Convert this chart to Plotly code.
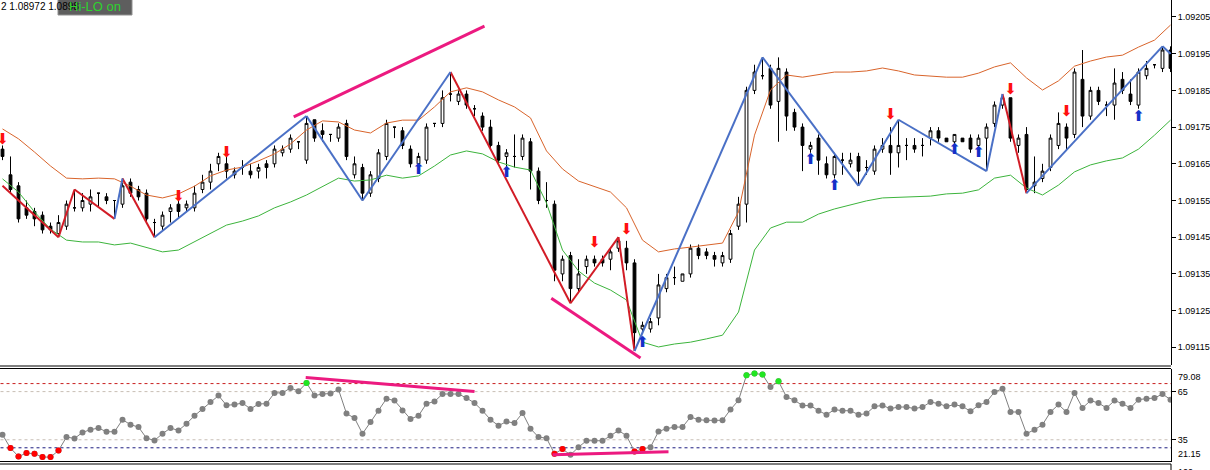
import plotly.graph_objects as go

# ---------------- data ----------------
bar_index = list(range(147))

open_px = [1.09169,1.09162,1.09159,1.09153,1.09152,1.09151,1.09148,1.09146,1.09148,1.09153,
1.09153,1.09154,1.09157,1.09156,1.09155,1.09154,1.09160,1.09158,1.09157,1.09149,
1.09148,1.09152,1.09154,1.09153,1.09153,1.09158,1.09160,1.09165,1.09165,1.09162,
1.09164,1.09163,1.09163,1.09165,1.09165,1.09168,1.09169,1.09171,1.09166,1.09177,
1.09174,1.09173,1.09172,1.09176,1.09162,1.09164,1.09157,1.09161,1.09167,1.09175,
1.09174,1.09169,1.09165,1.09166,1.09176,1.09176,1.09184,1.09182,1.09184,1.09180,
1.09178,1.09175,1.09170,1.09167,1.09167,1.09167,1.09171,1.09163,1.09155,1.09154,
1.09135,1.09140,1.09131,1.09137,1.09139,1.09139,1.09139,1.09142,1.09142,1.09138,
1.09120,1.09120,1.09123,1.09131,1.09134,1.09133,1.09135,1.09142,1.09141,1.09140,
1.09138,1.09139,1.09148,1.09154,1.09185,1.09189,1.09191,1.09182,1.09190,1.09179,
1.09175,1.09169,1.09172,1.09165,1.09162,1.09166,1.09165,1.09167,1.09164,1.09163,
1.09169,1.09170,1.09168,1.09170,1.09170,1.09170,1.09172,1.09174,1.09172,1.09171,
1.09172,1.09172,1.09170,1.09172,1.09176,1.09181,1.09183,1.09170,1.09173,1.09159,
1.09161,1.09164,1.09170,1.09175,1.09173,1.09188,1.09178,1.09185,1.09181,1.09181,
1.09188,1.09184,1.09181,1.09189,1.09192,1.09191,1.09196]

close_px = [1.09167,1.09158,1.09150,1.09151,1.09150,1.09147,1.09147,1.09149,1.09154,1.09153,
1.09155,1.09156,1.09157,1.09155,1.09155,1.09159,1.09157,1.09156,1.09150,1.09149,
1.09151,1.09153,1.09152,1.09154,1.09157,1.09160,1.09163,1.09167,1.09163,1.09163,
1.09164,1.09162,1.09164,1.09164,1.09169,1.09169,1.09172,1.09171,1.09176,1.09172,
1.09173,1.09173,1.09175,1.09167,1.09165,1.09157,1.09162,1.09168,1.09176,1.09175,
1.09170,1.09165,1.09167,1.09175,1.09176,1.09183,1.09184,1.09184,1.09181,1.09180,
1.09175,1.09170,1.09166,1.09168,1.09167,1.09172,1.09163,1.09155,1.09155,1.09136,
1.09139,1.09131,1.09135,1.09139,1.09138,1.09138,1.09141,1.09144,1.09138,1.09119,
1.09121,1.09122,1.09132,1.09134,1.09134,1.09135,1.09142,1.09140,1.09140,1.09139,
1.09140,1.09146,1.09154,1.09185,1.09190,1.09189,1.09181,1.09191,1.09178,1.09175,
1.09170,1.09170,1.09166,1.09162,1.09167,1.09166,1.09166,1.09163,1.09164,1.09169,
1.09170,1.09168,1.09170,1.09170,1.09169,1.09170,1.09174,1.09172,1.09171,1.09173,
1.09171,1.09169,1.09172,1.09175,1.09181,1.09183,1.09172,1.09172,1.09158,1.09160,
1.09163,1.09172,1.09176,1.09172,1.09190,1.09178,1.09185,1.09182,1.09181,1.09187,
1.09185,1.09182,1.09190,1.09191,1.09192,1.09196,1.09191]

high_px = [1.09170,1.09167,1.09160,1.09155,1.09153,1.09152,1.09149,1.09151,1.09155,1.09158,
1.09157,1.09158,1.09157,1.09157,1.09155,1.09161,1.09161,1.09159,1.09158,1.09150,
1.09152,1.09154,1.09155,1.09155,1.09159,1.09162,1.09165,1.09168,1.09167,1.09164,
1.09166,1.09165,1.09165,1.09166,1.09170,1.09170,1.09173,1.09171,1.09178,1.09177,
1.09176,1.09173,1.09176,1.09177,1.09167,1.09165,1.09163,1.09169,1.09177,1.09175,
1.09175,1.09170,1.09168,1.09176,1.09176,1.09185,1.09190,1.09185,1.09185,1.09181,
1.09179,1.09177,1.09171,1.09169,1.09173,1.09173,1.09172,1.09164,1.09160,1.09155,
1.09140,1.09141,1.09139,1.09140,1.09140,1.09140,1.09142,1.09145,1.09144,1.09139,
1.09122,1.09123,1.09135,1.09135,1.09137,1.09135,1.09143,1.09143,1.09142,1.09141,
1.09141,1.09147,1.09156,1.09186,1.09192,1.09194,1.09192,1.09194,1.09191,1.09180,
1.09176,1.09171,1.09173,1.09167,1.09168,1.09168,1.09168,1.09168,1.09166,1.09170,
1.09172,1.09175,1.09177,1.09172,1.09172,1.09172,1.09175,1.09175,1.09172,1.09173,
1.09172,1.09173,1.09173,1.09176,1.09182,1.09184,1.09183,1.09173,1.09175,1.09167,
1.09165,1.09173,1.09179,1.09176,1.09191,1.09196,1.09186,1.09186,1.09182,1.09191,
1.09190,1.09188,1.09191,1.09193,1.09192,1.09197,1.09197]

low_px = [1.09166,1.09157,1.09149,1.09150,1.09148,1.09146,1.09146,1.09145,1.09147,1.09152,
1.09152,1.09152,1.09153,1.09154,1.09150,1.09153,1.09156,1.09155,1.09149,1.09145,
1.09147,1.09149,1.09150,1.09152,1.09152,1.09157,1.09158,1.09163,1.09161,1.09161,
1.09162,1.09161,1.09161,1.09161,1.09164,1.09167,1.09168,1.09169,1.09165,1.09171,
1.09171,1.09171,1.09171,1.09166,1.09161,1.09155,1.09156,1.09160,1.09166,1.09172,
1.09169,1.09164,1.09164,1.09165,1.09175,1.09175,1.09182,1.09181,1.09180,1.09178,
1.09174,1.09169,1.09165,1.09164,1.09164,1.09166,1.09158,1.09154,1.09153,1.09133,
1.09133,1.09127,1.09130,1.09135,1.09137,1.09137,1.09136,1.09141,1.09136,1.09114,
1.09119,1.09119,1.09121,1.09130,1.09132,1.09133,1.09134,1.09139,1.09139,1.09137,
1.09137,1.09138,1.09147,1.09149,1.09184,1.09188,1.09180,1.09171,1.09174,1.09174,
1.09163,1.09168,1.09162,1.09161,1.09161,1.09162,1.09164,1.09159,1.09162,1.09162,
1.09168,1.09162,1.09164,1.09166,1.09168,1.09167,1.09170,1.09171,1.09171,1.09170,
1.09171,1.09168,1.09169,1.09163,1.09175,1.09180,1.09171,1.09168,1.09157,1.09157,
1.09160,1.09163,1.09169,1.09169,1.09172,1.09175,1.09177,1.09181,1.09178,1.09177,
1.09184,1.09181,1.09180,1.09188,1.09191,1.09190,1.09190]

# envelope bands, sampled every second bar
band_index = list(range(0, 147, 2))
band_upper = [1.091745,1.091718,1.091682,1.091644,1.091611,1.091609,1.091611,1.091609,1.091589,1.091565,
1.091557,1.091568,1.091589,1.091617,1.091633,1.091641,1.091658,1.091677,1.091704,1.091742,
1.091767,1.091764,1.091742,1.091734,1.091761,1.091769,1.091769,1.091805,1.091846,1.091857,
1.091846,1.091824,1.091805,1.091775,1.091685,1.091636,1.091603,1.091587,1.091573,1.091530,
1.091442,1.091410,1.091418,1.091423,1.091429,1.091434,1.091519,1.091728,1.091851,1.091892,
1.091886,1.091892,1.091900,1.091900,1.091903,1.091911,1.091903,1.091892,1.091889,1.091886,
1.091886,1.091897,1.091914,1.091925,1.091884,1.091851,1.091876,1.091916,1.091930,1.091941,
1.091946,1.091968,1.091987,1.092028]
band_lower = [1.091609,1.091573,1.091519,1.091472,1.091442,1.091437,1.091437,1.091429,1.091434,1.091423,
1.091410,1.091415,1.091437,1.091461,1.091483,1.091494,1.091508,1.091530,1.091546,1.091565,
1.091589,1.091611,1.091603,1.091606,1.091619,1.091611,1.091617,1.091644,1.091674,1.091685,
1.091677,1.091655,1.091641,1.091633,1.091543,1.091415,1.091358,1.091325,1.091306,1.091279,
1.091164,1.091151,1.091159,1.091164,1.091173,1.091183,1.091246,1.091415,1.091475,1.091491,
1.091491,1.091513,1.091527,1.091538,1.091549,1.091557,1.091559,1.091559,1.091562,1.091568,
1.091570,1.091579,1.091611,1.091619,1.091584,1.091565,1.091592,1.091628,1.091647,1.091658,
1.091666,1.091690,1.091728,1.091769]

# zigzag pivots
zz_index = [0, 7, 9, 14, 15, 19, 38, 45, 56, 71, 77, 79, 95, 107, 112, 123, 125, 128, 145, 146]
zz_price = [1.09159, 1.09145, 1.09158, 1.09150, 1.09161, 1.09145, 1.09178, 1.09155, 1.09190, 1.09127,
            1.09145, 1.09114, 1.09194, 1.09159, 1.09177, 1.09163, 1.09184, 1.09157, 1.09197, 1.09195]
zz_leg_color = ["red", "red", "red", "blue", "red", "blue", "blue", "blue", "red", "red",
                "red", "blue", "blue", "blue", "blue", "blue", "red", "blue", "blue"]

# signal arrows
sell_index = [0, 22, 28, 74, 78, 111, 126, 133]
sell_price = [1.091715, 1.091559, 1.091679, 1.091434, 1.091470, 1.091783, 1.091851, 1.091791]
buy_index = [52, 63, 80, 101, 104, 119, 122, 142]
buy_price = [1.091633, 1.091625, 1.091162, 1.091660, 1.091589, 1.091688, 1.091679, 1.091777]

# divergence lines (price and oscillator)
div_price_x = [[36.4, 60.25], [68.6, 79.75]]
div_price_y = [[1.091778, 1.092025], [1.091284, 1.091121]]
div_osc_x = [[37.9, 59.0], [68.75, 83.25]]
div_osc_y = [[73.75, 65.0], [25.6, 27.5]]

# oscillator
osc = [38.1,29.8,24.6,26.7,26.3,24.2,24.2,28.3,36.7,35.8,
39.6,41.3,42.3,40.0,40.0,47.5,44.4,42.9,36.0,34.6,
38.8,42.3,40.8,45.0,50.0,54.2,58.5,62.5,56.5,56.9,
57.9,54.2,57.3,57.5,64.2,64.2,67.3,65.2,70.4,62.5,
63.5,63.8,66.3,51.3,48.5,38.8,46.0,53.1,60.6,59.4,
53.3,47.9,50.0,57.5,58.8,63.5,63.5,63.5,61.0,57.9,
53.1,47.5,43.8,46.3,45.4,51.7,41.9,36.7,36.0,26.3,
29.2,25.6,30.4,34.4,34.4,34.4,37.5,40.8,37.5,27.7,
29.2,30.4,40.2,41.9,42.9,42.9,49.2,47.5,47.1,47.0,
47.1,53.8,59.6,75.2,76.3,75.6,67.9,71.4,61.7,59.6,
56.3,56.3,53.1,50.6,53.8,53.1,53.1,50.6,51.3,55.8,
56.3,54.4,55.4,55.4,54.4,55.4,58.5,57.5,55.8,56.9,
55.8,52.7,56.5,58.5,64.8,66.7,52.3,52.3,38.8,41.3,
44.4,52.3,56.9,52.3,64.2,54.8,59.4,57.9,54.8,59.4,
57.5,54.8,60.0,60.6,61.0,63.5,60.0]
osc_oversold_bars = [1, 2, 3, 4, 5, 6, 7, 69, 70, 79, 80]
osc_overbought_bars = [38, 93, 94, 95, 97]
osc_levels = [70, 65, 35, 30]
osc_level_colors = ["#c81e1e", "#c8beb4", "#c8beb4", "#1c1c80"]
osc_min, osc_max = 21.15, 79.08

price_ticks = [1.09115, 1.09125, 1.09135, 1.09145, 1.09155, 1.09165, 1.09175, 1.09185, 1.09195, 1.09205]

# ---------------- figure ----------------
W, H = 1210, 470
PLOT_R = 1171
fig = go.Figure()

fig.add_trace(go.Scatter(x=band_index, y=band_upper, mode="lines",
                         line=dict(color="#d9642b", width=1), hoverinfo="skip"))
fig.add_trace(go.Scatter(x=band_index, y=band_lower, mode="lines",
                         line=dict(color="#3cb43c", width=1), hoverinfo="skip"))

fig.add_trace(go.Candlestick(
    x=bar_index, open=open_px, high=high_px, low=low_px, close=close_px,
    increasing=dict(line=dict(color="black", width=1), fillcolor="white"),
    decreasing=dict(line=dict(color="black", width=1), fillcolor="black"),
    whiskerwidth=0, hoverinfo="skip"))

zz_colors = {"red": "#d21c26", "blue": "#4a70c6"}
for cname in ["red", "blue"]:
    xs, ys = [], []
    for k, c in enumerate(zz_leg_color):
        if c == cname:
            xs += [zz_index[k], zz_index[k + 1], None]
            ys += [zz_price[k], zz_price[k + 1], None]
    fig.add_trace(go.Scatter(x=xs, y=ys, mode="lines",
                             line=dict(color=zz_colors[cname], width=2), hoverinfo="skip"))

for xs, ys in zip(div_price_x, div_price_y):
    fig.add_trace(go.Scatter(x=xs, y=ys, mode="lines",
                             line=dict(color="#ec1a80", width=3), hoverinfo="skip"))

fig.add_trace(go.Scatter(x=sell_index, y=sell_price, mode="text", text=["⬇"] * len(sell_index),
                         textfont=dict(color="#ff1010", size=15, family="DejaVu Sans"),
                         hoverinfo="skip"))
fig.add_trace(go.Scatter(x=buy_index, y=buy_price, mode="text", text=["⬆"] * len(buy_index),
                         textfont=dict(color="#1430c8", size=15, family="DejaVu Sans"),
                         hoverinfo="skip"))

# oscillator panel
for lv, lc in zip(osc_levels, osc_level_colors):
    fig.add_trace(go.Scatter(x=[-1, 148], y=[lv, lv], mode="lines", xaxis="x2", yaxis="y2",
                             line=dict(color=lc, width=1, dash="3px,3px"), hoverinfo="skip"))
fig.add_trace(go.Scatter(x=bar_index, y=osc, mode="lines+markers", xaxis="x2", yaxis="y2",
                         line=dict(color="#808080", width=1),
                         marker=dict(color="#808080", size=6), hoverinfo="skip"))
fig.add_trace(go.Scatter(x=osc_oversold_bars, y=[osc[i] for i in osc_oversold_bars], mode="markers",
                         xaxis="x2", yaxis="y2", marker=dict(color="#ff0000", size=6), hoverinfo="skip"))
fig.add_trace(go.Scatter(x=osc_overbought_bars, y=[osc[i] for i in osc_overbought_bars], mode="markers",
                         xaxis="x2", yaxis="y2", marker=dict(color="#22e622", size=6), hoverinfo="skip"))
for xs, ys in zip(div_osc_x, div_osc_y):
    fig.add_trace(go.Scatter(x=xs, y=ys, mode="lines", xaxis="x2", yaxis="y2",
                             line=dict(color="#ec1a80", width=3), hoverinfo="skip"))


def py(px):
    return 1 - px / H


xr = [-0.3125, -0.3125 + PLOT_R / 8.0]
ax_font = dict(family="Liberation Sans, Arial", size=9, color="black")
fig.update_layout(
    width=W, height=H, showlegend=False,
    margin=dict(l=0, r=W - PLOT_R, t=0, b=0),
    paper_bgcolor="white", plot_bgcolor="white",
    boxgap=0.5,
    xaxis=dict(domain=[0, 1], range=xr, visible=False, rangeslider=dict(visible=False), anchor="y"),
    yaxis=dict(domain=[py(365), 1], range=[1.0911018, 1.0920963], side="right",
               tickvals=price_ticks, ticktext=["%.5f" % v for v in price_ticks],
               ticks="outside", ticklen=4, tickcolor="black", tickfont=ax_font,
               showline=True, linecolor="black", linewidth=1,
               showgrid=False, zeroline=False, anchor="x"),
    xaxis2=dict(domain=[0, 1], range=xr, visible=False, anchor="y2"),
    yaxis2=dict(domain=[py(462), py(369)], range=[osc_min, osc_max], side="right",
                tickvals=[65, 35], ticktext=["65", "35"],
                ticks="outside", ticklen=4, tickcolor="black", tickfont=ax_font,
                showline=True, linecolor="black", linewidth=1,
                showgrid=False, zeroline=False, anchor="x2"),
)

shapes = []
for ypx in [366, 368.5, 461.5, 464]:
    shapes.append(dict(type="line", xref="paper", yref="paper", x0=0, x1=1,
                       y0=py(ypx), y1=py(ypx), line=dict(color="black", width=1)))
shapes.append(dict(type="line", xref="paper", yref="paper", x0=1, x1=1,
                   y0=0, y1=py(464), line=dict(color="black", width=1)))
# indicator on/off button (kept under the header text, as in the source)
shapes.append(dict(type="rect", xref="paper", yref="paper", x0=58 / PLOT_R, x1=132 / PLOT_R,
                   y0=py(15), y1=py(-3), fillcolor="#5e5e5e", line=dict(color="#909090", width=1),
                   layer="below"))
fig.update_layout(shapes=shapes)

ann = [
    dict(text="2 1.08972 1.0898", xref="paper", yref="paper", x=-1 / PLOT_R, y=py(-1),
         xanchor="left", yanchor="top", showarrow=False,
         font=dict(family="Liberation Sans, Arial", size=10, color="black")),
    dict(text="Hi-LO on", xref="paper", yref="paper", x=95 / PLOT_R, y=py(7),
         xanchor="center", yanchor="middle", showarrow=False,
         font=dict(family="Liberation Sans, Arial", size=13, color="#2ed22e")),
    dict(text="79.08", xref="paper", yref="paper", x=1, y=py(370), xshift=5,
         xanchor="left", yanchor="top", showarrow=False, font=ax_font),
    dict(text="21.15", xref="paper", yref="paper", x=1, y=py(461), xshift=5,
         xanchor="left", yanchor="bottom", showarrow=False, font=ax_font),
    dict(text="100", xref="paper", yref="paper", x=1, y=py(465), xshift=5,
         xanchor="left", yanchor="top", showarrow=False, font=ax_font),
]
fig.update_layout(annotations=ann)

fig.write_html("out.html", config={"displayModeBar": False},
               post_script="document.body.style.margin='0';document.body.style.overflow='hidden';")
